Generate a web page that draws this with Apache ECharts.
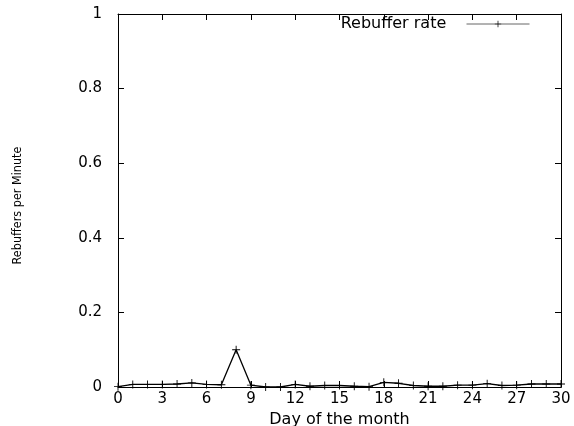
<!DOCTYPE html>
<html>
<head>
<meta charset="utf-8">
<script src="https://cdn.jsdelivr.net/npm/echarts@6/dist/echarts.min.js"></script>
<style>html,body{margin:0;padding:0;background:#fff}#c{width:574px;height:426px}</style>
</head>
<body>
<div id="c"></div>
<script>
var days = [0,1,2,3,4,5,6,7,8,9,10,11,12,13,14,15,16,17,18,19,20,21,22,23,24,25,26,27,28,29,30];
var rebufferRate = [0.001,0.007,0.007,0.007,0.008,0.011,0.007,0.006,0.1,0.005,0,0,0.007,0.002,0.004,0.004,0.002,0.001,0.0125,0.01,0.004,0.002,0.002,0.005,0.005,0.009,0.004,0.005,0.008,0.008,0.008];
var seriesName = 'Rebuffer rate';
var xTitle = 'Day of the month';
var yTitle = 'Rebuffers per Minute';

var FONT = 'DejaVu Sans';
var plus = 'path://M0,4 L9,4 L9,5 L0,5 Z M4,0 L5,0 L5,9 L4,9 Z';
var chart = echarts.init(document.getElementById('c'), null, {renderer: 'canvas'});
var frame = {show: true, onZero: false, lineStyle: {color: '#000', width: 1}};
var tick = {show: true, inside: true, length: 6, lineStyle: {color: '#000', width: 1}};
chart.setOption({
  animation: false,
  backgroundColor: '#fff',
  grid: {left: 118, right: 13, top: 14, bottom: 39, containLabel: false, outerBoundsMode: 'none'},
  legend: {
    show: true,
    right: 39, top: 11,
    align: 'right',
    itemWidth: 63, itemHeight: 8,
    formatter: function (n) { return n + '   '; },
    textStyle: {fontFamily: FONT, fontSize: 16, color: '#000'},
    lineStyle: {color: '#666', width: 1},
    itemStyle: {color: '#000'},
    data: [seriesName]
  },
  xAxis: [{
    type: 'value', position: 'bottom', min: 0, max: 30, interval: 3,
    axisLine: frame, axisTick: tick, splitLine: {show: false},
    axisLabel: {margin: 5, fontFamily: FONT, fontSize: 15, color: '#000'},
    name: xTitle, nameLocation: 'middle', nameGap: 19,
    nameTextStyle: {fontFamily: FONT, fontSize: 16, color: '#000'}
  }, {
    type: 'value', position: 'top', min: 0, max: 30, interval: 3,
    axisLine: frame, axisTick: tick, splitLine: {show: false},
    axisLabel: {show: false}
  }],
  yAxis: [{
    type: 'value', position: 'left', min: 0, max: 1, interval: 0.2,
    axisLine: frame, axisTick: tick, splitLine: {show: false},
    axisLabel: {margin: 16, fontFamily: FONT, fontSize: 15, color: '#000'},
    name: yTitle, nameLocation: 'middle', nameGap: 94, nameRotate: 90,
    nameTextStyle: {fontFamily: '"Liberation Sans Narrow", "DejaVu Sans Condensed", sans-serif', fontSize: 12.5, color: '#000', padding: [0, 10, 0, 0]}
  }, {
    type: 'value', position: 'right', min: 0, max: 1, interval: 0.2,
    axisLine: frame, axisTick: tick, splitLine: {show: false},
    axisLabel: {show: false}
  }],
  series: [{
    name: seriesName,
    type: 'line',
    xAxisIndex: 0, yAxisIndex: 0,
    data: days.map(function (d, i) { return [d, rebufferRate[i]]; }),
    symbol: plus, symbolSize: 8, showSymbol: true,
    lineStyle: {color: '#000', width: 1.3},
    itemStyle: {color: '#000', borderWidth: 0},
    clip: false
  }]
});
</script>
</body>
</html>
